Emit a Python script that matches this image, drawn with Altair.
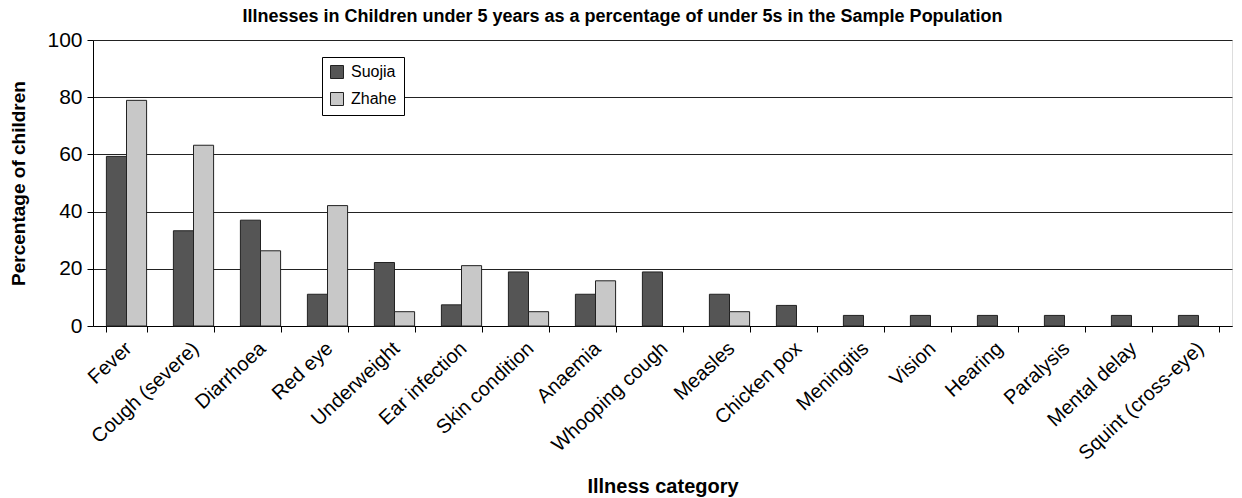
import altair as alt
import pandas as pd

categories = ["Fever", "Cough (severe)", "Diarrhoea", "Red eye", "Underweight",
              "Ear infection", "Skin condition", "Anaemia", "Whooping  cough",
              "Measles", "Chicken pox", "Meningitis", "Vision", "Hearing",
              "Paralysis", "Mental delay", "Squint (cross-eye)"]
suojia = [59.3, 33.3, 37.0, 11.1, 22.2, 7.4, 18.9, 11.1, 18.9, 11.1, 7.2,
          3.7, 3.7, 3.7, 3.7, 3.7, 3.7]
zhahe = [78.9, 63.2, 26.3, 42.1, 5.0, 21.1, 5.0, 15.8, 0, 5.0, 0,
         0, 0, 0, 0, 0, 0]
series = ["Suojia", "Zhahe"]

rows = []
for i, c in enumerate(categories):
    if suojia[i] > 0:
        rows.append({"cat": c, "series": "Suojia", "value": suojia[i]})
    if zhahe[i] > 0:
        rows.append({"cat": c, "series": "Zhahe", "value": zhahe[i]})
df = pd.DataFrame(rows)

FONT = "Liberation Sans"

bars = alt.Chart(df).mark_bar(stroke="#222222", strokeWidth=1).encode(
    x=alt.X("cat:N", sort=categories, title="Illness category",
            scale=alt.Scale(domain=categories, paddingInner=0.4, paddingOuter=0.2),
            axis=alt.Axis(labelAngle=-43, labelAlign="right", labelBaseline="top",
                          tickBand="extent", labelFontSize=20, titleFontSize=20,
                          titleFontWeight="bold", labelColor="#000", titleColor="#000",
                          domainColor="#000", tickColor="#000", tickSize=6,
                          labelPadding=6, labelOffset=-5, titleY=166,
                          titleBaseline="alphabetic", grid=False, labelFont=FONT,
                          titleFont=FONT, labelOverlap=False, labelBound=False)),
    xOffset=alt.XOffset("series:N", sort=series, scale=alt.Scale(domain=series)),
    y=alt.Y("value:Q", title="Percentage of children",
            scale=alt.Scale(domain=[0, 100], nice=False),
            axis=alt.Axis(values=[0, 20, 40, 60, 80, 100], labelFontSize=21,
                          titleFontSize=19, titleFontWeight="bold", labelColor="#000",
                          titleColor="#000", domainColor="#000", tickColor="#000",
                          tickSize=6, gridColor="#222", gridWidth=1, labelFont=FONT,
                          titleFont=FONT, titlePadding=18, labelPadding=5)),
    color=alt.Color("series:N", sort=series, title=None,
                    scale=alt.Scale(domain=series, range=["#555555", "#c8c8c8"]),
                    legend=alt.Legend(orient="none", legendX=229, legendY=17,
                                      fillColor="white", strokeColor="#000",
                                      padding=7, symbolType="square", symbolSize=169,
                                      symbolStrokeColor="#222", symbolStrokeWidth=1,
                                      labelFontSize=16, labelFont=FONT, labelColor="#000",
                                      rowPadding=9, labelOffset=6)),
)

chart = bars.properties(
    width=1139, height=286,
    title=alt.TitleParams("Illnesses in Children under 5 years  as a percentage of under 5s in the Sample Population",
                          fontSize=18, font=FONT, fontWeight="bold", color="#000",
                          anchor="middle", offset=3, dx=-40),
    autosize=alt.AutoSizeParams(type="none"),
    padding={"left": 85, "top": 32, "right": 2, "bottom": 172},
).configure_view(stroke="#000", strokeWidth=1).configure(background="white")

chart.save("out.html", embed_options={"renderer": "svg", "actions": False})
